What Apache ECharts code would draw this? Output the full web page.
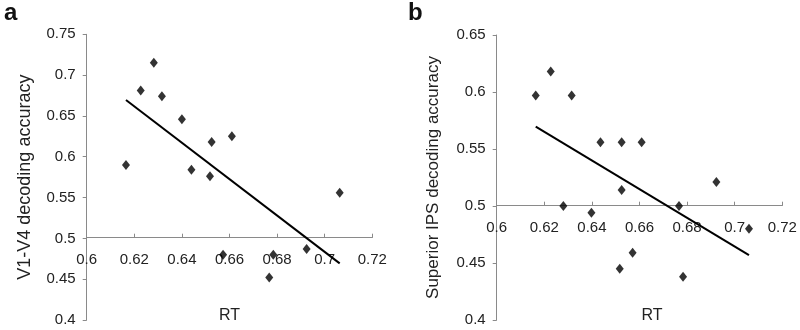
<!doctype html>
<html lang="en">
<head>
<meta charset="UTF-8">
<title>RT vs decoding accuracy</title>
<script src="https://cdn.jsdelivr.net/npm/echarts@6/dist/echarts.min.js"></script>
<style>
  html, body { margin: 0; padding: 0; background: #fff; }
  #main { width: 800px; height: 330px; }
</style>
</head>
<body>
<div id="main"></div>
<script>
// panel a : V1-V4
var rtA  = [0.6165, 0.6227, 0.6282, 0.6316, 0.6400, 0.6440, 0.6525, 0.6518, 0.6610, 0.6573, 0.6767, 0.6784, 0.6924, 0.7063];
var accA = [0.590, 0.681, 0.715, 0.674, 0.646, 0.584, 0.618, 0.576, 0.625, 0.480, 0.452, 0.480, 0.487, 0.556];
var fitA = [[0.6165, 0.6695], [0.7063, 0.4694]];

// panel b : superior IPS
var rtB  = [0.6164, 0.6227, 0.6315, 0.6280, 0.6398, 0.6436, 0.6525, 0.6609, 0.6525, 0.6517, 0.6571, 0.6766, 0.6783, 0.6923, 0.7060];
var accB = [0.597, 0.618, 0.597, 0.500, 0.494, 0.556, 0.556, 0.556, 0.514, 0.445, 0.459, 0.500, 0.438, 0.521, 0.480];
var fitB = [[0.6164, 0.5696], [0.7060, 0.4570]];

var yNames = ['V1-V4 decoding accuracy', 'Superior IPS decoding accuracy'];

var axisGray = '#8a8a8a';
var textCol = '#222';
var font = 'Liberation Sans, Arial, sans-serif';

function pairs(xs, ys) {
    var out = [];
    for (var i = 0; i < xs.length; i++) out.push([xs[i], ys[i]]);
    return out;
}

function xAxisFor(idx, offset) {
    return {
        type: 'value', gridIndex: idx, min: 0.6, max: 0.72, interval: 0.02,
        position: 'bottom', offset: offset,
        axisLine: { lineStyle: { color: axisGray, width: 1 } },
        axisTick: { show: true, inside: true, length: 4, lineStyle: { color: axisGray } },
        axisLabel: { color: textCol, fontSize: 15, fontFamily: font, margin: 15 },
        splitLine: { show: false }
    };
}

function yAxisFor(idx, max, gap, nameSize) {
    return {
        type: 'value', gridIndex: idx, min: 0.4, max: max, interval: 0.05,
        name: yNames[idx], nameLocation: 'middle', nameGap: gap,
        nameTextStyle: { color: textCol, fontSize: nameSize, fontFamily: font },
        axisLine: { show: true, lineStyle: { color: axisGray, width: 1 } },
        axisTick: { show: true, inside: false, length: 4, lineStyle: { color: axisGray } },
        axisLabel: { color: textCol, fontSize: 15, fontFamily: font, margin: 11 },
        splitLine: { show: false }
    };
}

var myChart = echarts.init(document.getElementById('main'));

var option = {
    backgroundColor: '#fff',
    animation: false,
    grid: [
        { left: 86.7, top: 34.3, width: 285.6, height: 285.7 },
        { left: 496.7, top: 35, width: 285.6, height: 285 }
    ],
    xAxis: [
        xAxisFor(0, -82.3),
        xAxisFor(1, -114.3)
    ],
    yAxis: [
        yAxisFor(0, 0.75, 53, 18),
        yAxisFor(1, 0.65, 55, 17)
    ],
    graphic: [
        { type: 'text', left: 4, top: 1, style: { text: 'a', font: 'bold 24px ' + font, fill: '#111' } },
        { type: 'text', left: 408, top: 1, style: { text: 'b', font: 'bold 24px ' + font, fill: '#111' } },
        { type: 'text', x: 229.5, y: 316, style: { text: 'RT', font: '16px ' + font, fill: textCol, align: 'center', verticalAlign: 'middle' } },
        { type: 'text', x: 652, y: 316, style: { text: 'RT', font: '16px ' + font, fill: textCol, align: 'center', verticalAlign: 'middle' } }
    ],
    series: [
        {
            type: 'scatter', xAxisIndex: 0, yAxisIndex: 0,
            symbol: 'diamond', symbolSize: [8, 10],
            itemStyle: { color: '#000' },
            data: pairs(rtA, accA)
        },
        {
            type: 'line', xAxisIndex: 0, yAxisIndex: 0,
            symbol: 'none', lineStyle: { color: '#000', width: 2 },
            data: fitA
        },
        {
            type: 'scatter', xAxisIndex: 1, yAxisIndex: 1,
            symbol: 'diamond', symbolSize: [8, 10],
            itemStyle: { color: '#000' },
            data: pairs(rtB, accB)
        },
        {
            type: 'line', xAxisIndex: 1, yAxisIndex: 1,
            symbol: 'none', lineStyle: { color: '#000', width: 2 },
            data: fitB
        }
    ]
};

myChart.setOption(option);
</script>
</body>
</html>
